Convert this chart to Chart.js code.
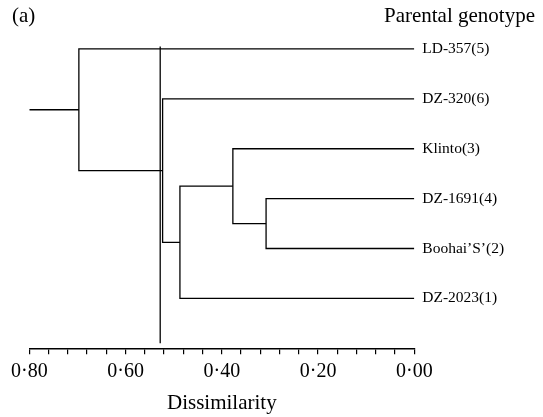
<!DOCTYPE html>
<html><head><meta charset="utf-8">
<script src="https://cdn.jsdelivr.net/npm/chart.js@4"></script>
<style>html,body{margin:0;padding:0;background:#fff}#wrap{width:543px;height:417px;position:relative}</style>
</head><body><div id="wrap"><canvas id="c" width="543" height="417"></canvas></div>
<script>
// ---- data ----
const leafLabels = ["LD-357(5)", "DZ-320(6)", "Klinto(3)", "DZ-1691(4)", "Boohai\u2019S\u2019(2)", "DZ-2023(1)"];
const leafHeights = [0, 0, 0, 0, 0, 0];
// linkage: leaves are 0..5, merge k creates node 6+k
const mergeA = [3, 2, 7, 1, 0];
const mergeB = [4, 6, 5, 8, 9];
const mergeHeight = [0.308, 0.377, 0.487, 0.523, 0.697];
const rootEnd = 0.80;
const cutHeight = 0.528;
const xTickValues = [0, 0.04, 0.08, 0.12, 0.16, 0.20, 0.24, 0.28, 0.32, 0.36, 0.40, 0.44, 0.48, 0.52, 0.56, 0.60, 0.64, 0.68, 0.72, 0.76, 0.80];
const xLabelValues = [0, 0.20, 0.40, 0.60, 0.80];
const titleLeft = "(a)";
const titleRight = "Parental genotype";
const xTitle = "Dissimilarity";

// ---- build dendrogram segments ----
const nodeY = leafLabels.map((_, i) => i);
const nodeH = leafHeights.slice();
const segs = [];
for (let k = 0; k < mergeA.length; k++) {
  const a = mergeA[k], b = mergeB[k], h = mergeHeight[k];
  segs.push([{x: nodeH[a], y: nodeY[a]}, {x: h, y: nodeY[a]}, {x: h, y: nodeY[b]}, {x: nodeH[b], y: nodeY[b]}]);
  nodeY.push((nodeY[a] + nodeY[b]) / 2);
  nodeH.push(h);
}
const root = nodeY.length - 1;
segs.push([{x: nodeH[root], y: nodeY[root]}, {x: rootEnd, y: nodeY[root]}]);
segs.push([{x: cutHeight, y: -0.05}, {x: cutHeight, y: 5.9}]);

const SERIF = '"Liberation Serif", "Times New Roman", serif';
const datasets = segs.map(d => ({
  data: d, showLine: true, borderColor: '#000', borderWidth: 1.3,
  pointRadius: 0, pointHoverRadius: 0, fill: false, tension: 0
}));

const titles = {
  id: 'titles',
  afterDraw(chart) {
    const c = chart.ctx;
    c.save();
    c.fillStyle = '#000';
    c.font = '21px ' + SERIF;
    c.textBaseline = 'alphabetic';
    c.textAlign = 'left';
    c.fillText(titleLeft, 12, 22);
    c.textAlign = 'right';
    c.fillText(titleRight, 535, 22);
    c.restore();
  }
};

new Chart(document.getElementById('c'), {
  type: 'scatter',
  data: {datasets},
  plugins: [titles],
  options: {
    responsive: false, animation: false, devicePixelRatio: 1,
    layout: {padding: {left: 29.3, top: 29, right: 0, bottom: 0}},
    plugins: {legend: {display: false}, tooltip: {enabled: false}},
    scales: {
      x: {
        type: 'linear', reverse: true, min: 0, max: 0.8, position: 'bottom',
        afterBuildTicks: s => { s.ticks = xTickValues.map(v => ({value: v})); },
        afterFit: s => { s.height = 417 - 348.3; },
        ticks: {
          autoSkip: false, maxRotation: 0, padding: 5, color: '#000',
          font: {family: SERIF, size: 20},
          callback: v => xLabelValues.some(l => Math.abs(l - v) < 1e-9) ? v.toFixed(2).replace('.', '\u00B7') : ''
        },
        grid: {drawOnChartArea: false, drawTicks: true, tickLength: 6, color: '#000', lineWidth: 1.2},
        border: {display: true, color: '#000', width: 1.4},
        title: {display: true, text: xTitle, color: '#000', font: {family: SERIF, size: 21}, padding: {top: 0, bottom: 1}}
      },
      y: {
        type: 'linear', position: 'right', reverse: true, min: -0.4, max: 6.0,
        afterBuildTicks: s => { s.ticks = leafLabels.map((_, i) => ({value: i})); },
        afterFit: s => { s.width = 543 - 414.3; },
        ticks: {autoSkip: false, padding: 8, color: '#000', font: {family: SERIF, size: 15.5},
          callback: v => leafLabels[Math.round(v)]},
        grid: {display: false, drawTicks: false},
        border: {display: false}
      }
    }
  }
});
</script>
</body></html>
